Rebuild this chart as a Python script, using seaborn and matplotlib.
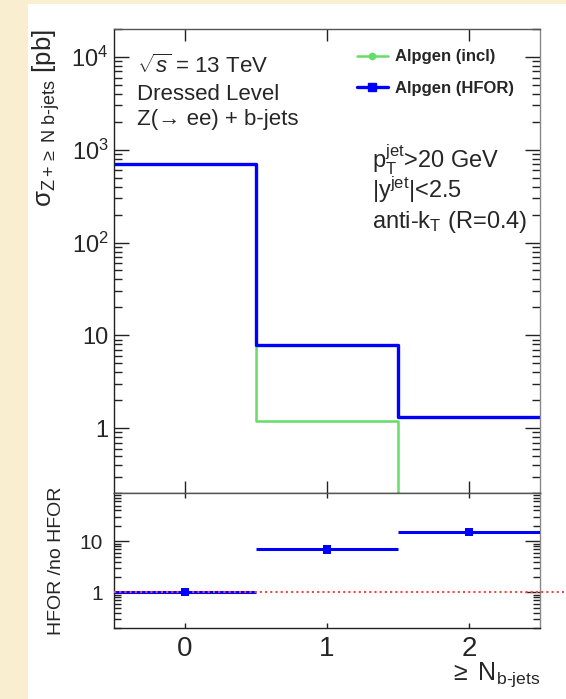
import numpy as np
import pandas as pd
import matplotlib
matplotlib.use("Agg")
import matplotlib.pyplot as plt
import seaborn as sns
from matplotlib.lines import Line2D
from matplotlib.patches import Rectangle
from matplotlib.ticker import FixedLocator, FixedFormatter, LogLocator, NullFormatter, NullLocator

# ---------------- data ----------------
n_bjets = [0, 1, 2]
bin_edges = [-0.5, 0.5, 1.5, 2.5]
xsec_incl = [700.0, 1.2, 0.087]
xsec_hfor = [700.0, 7.9, 1.32]
ratio_hfor = [1.0, 6.9, 15.2]
series_labels = ["Alpgen (incl)", "Alpgen (HFOR)"]
series_colors = ["#66DD66", "#0000FF"]
main_yticks = [1, 10, 100, 1000, 10000]
main_yticklabels = ["1", "10", r"$10^{2}$", r"$10^{3}$", r"$10^{4}$"]
ratio_yticks = [1, 10]
ratio_yticklabels = ["1", "10"]
xticks = [0, 1, 2]
xticklabels = ["0", "1", "2"]

# ---------------- style ----------------
sns.set_theme(style="ticks")
plt.rcParams["font.family"] = ["Liberation Sans", "DejaVu Sans"]
plt.rcParams["mathtext.fontset"] = "custom"
plt.rcParams["mathtext.rm"] = "Liberation Sans"
plt.rcParams["mathtext.it"] = "Liberation Sans:italic"
plt.rcParams["mathtext.bf"] = "Liberation Sans:bold"
plt.rcParams["mathtext.sf"] = "Liberation Sans"

W, H = 566, 699
fig = plt.figure(figsize=(W / 100, H / 100), dpi=100, facecolor="#F9EFD0")
fig.patches.append(Rectangle((28 / W, 0), 1 - 28 / W, (H - 4) / H,
                             transform=fig.transFigure, facecolor="white",
                             edgecolor="none", zorder=-10))


def px_axes(l, t, r, b):
    return [l / W, 1 - b / H, (r - l) / W, (b - t) / H]


ax = fig.add_axes(px_axes(114, 29, 540, 493))
axr = fig.add_axes(px_axes(114, 493, 540, 628))

# ---------------- main panel ----------------
df = pd.DataFrame({
    "n": n_bjets * 2,
    "xsec": xsec_incl + xsec_hfor,
    "sample": [series_labels[0]] * 3 + [series_labels[1]] * 3,
})
for label, color, lw in zip(series_labels, series_colors, [1.8, 2.4]):
    sub = df[df["sample"] == label]
    sns.histplot(data=sub, x="n", weights="xsec", bins=bin_edges,
                 element="step", fill=False, color=color, linewidth=lw, ax=ax)

ax.set_yscale("log")
ax.set_xlim(-0.5, 2.5)
ax.set_ylim(0.2, 2e4)

# ---------------- ratio panel ----------------
rdf = pd.DataFrame({"n": n_bjets, "ratio": ratio_hfor})
axr.errorbar(n_bjets, ratio_hfor, xerr=0.5, fmt="none", ecolor="#0000FF",
             elinewidth=2.2, capsize=0, zorder=3)
sns.scatterplot(data=rdf, x="n", y="ratio", marker="s", s=34, color="#0000FF",
                edgecolor="none", ax=axr, zorder=4)
axr.axhline(1, xmin=0, xmax=(W - 114) / 426, color="#FF4444", ls=(0, (1, 1.5)), lw=1.5,
            clip_on=False, zorder=3.5)
axr.set_yscale("log")
axr.set_xlim(-0.5, 2.5)
axr.set_ylim(0.2, 88)

# ---------------- ticks ----------------
for a in (ax, axr):
    a.tick_params(which="both", direction="in", left=True, right=True,
                  top=True, bottom=True, color="#222222")
    a.xaxis.set_major_locator(FixedLocator(xticks))
    a.xaxis.set_minor_locator(NullLocator())
    a.yaxis.set_minor_locator(LogLocator(base=10, subs=np.arange(2, 10), numticks=30))
    a.yaxis.set_minor_formatter(NullFormatter())
    for side, col in (("left", "#222222"), ("bottom", "#222222"),
                      ("top", "#555555"), ("right", "#888888")):
        a.spines[side].set_color(col)
        a.spines[side].set_linewidth(1.0)
    a.set_facecolor("white")

ax.yaxis.set_major_locator(FixedLocator(main_yticks))
ax.yaxis.set_major_formatter(FixedFormatter(main_yticklabels))
ax.tick_params(axis="y", which="major", length=10.8, width=1, labelsize=17, pad=4)
ax.tick_params(axis="y", which="minor", length=5.8, width=1)
ax.tick_params(axis="x", which="major", length=8.5, width=1, labelbottom=False)

axr.yaxis.set_major_locator(FixedLocator(ratio_yticks))
axr.yaxis.set_major_formatter(FixedFormatter(ratio_yticklabels))
axr.tick_params(axis="y", which="major", length=10.8, width=1, labelsize=15, pad=8)
axr.tick_params(axis="y", which="minor", length=5.0, width=1)
axr.xaxis.set_major_formatter(FixedFormatter(xticklabels))
axr.tick_params(axis="x", which="major", length=3.6, width=1, labelsize=20, pad=6)

# ---------------- labels ----------------
ax.set_xlabel("")
ax.set_ylabel(r"$\mathrm{\sigma}_{\mathrm{Z+}\geq\mathrm{\ N\ b}\text{-}\mathrm{jets}}$ [pb]",
              fontsize=18.5, loc="top")
ax.yaxis.set_label_coords(-0.122, 1.0)

axr.set_ylabel("HFOR /no HFOR", fontsize=14)
axr.yaxis.set_label_coords(-0.115, 0.5)
axr.set_xlabel(r"$\geq\ \mathrm{N}_{\mathrm{b}\text{-}\mathrm{jets}}$", fontsize=18, loc="right")
axr.xaxis.set_label_coords(1.0, -0.237)

# ---------------- annotations ----------------
ax.text(0.054, 0.905, r"$\sqrt{s}$ = 13 TeV", transform=ax.transAxes, fontsize=16, va="baseline")
ax.text(0.054, 0.848, "Dressed Level", transform=ax.transAxes, fontsize=16, va="baseline")
ax.text(0.054, 0.793, "Z(\u2192 ee) + b-jets", transform=ax.transAxes, fontsize=16, va="baseline")

ax.text(0.606, 0.700, r"$\mathrm{p}_{\mathrm{T}}^{\mathrm{jet}}$>20 GeV", transform=ax.transAxes,
        fontsize=17, va="baseline")
ax.text(0.606, 0.636, r"|y$^{\mathrm{jet}}$|<2.5", transform=ax.transAxes, fontsize=17, va="baseline")
ax.text(0.606, 0.571, r"anti-k$_{\mathrm{T}}$ (R=0.4)", transform=ax.transAxes, fontsize=17,
        va="baseline")

handles = [
    Line2D([], [], color=series_colors[0], lw=1.8, marker="o", ms=4.5),
    Line2D([], [], color=series_colors[1], lw=2.4, marker="s", ms=5.5),
]
ax.legend(handles, series_labels, loc="upper left", bbox_to_anchor=(0.57, 0.956),
          frameon=False, prop={"weight": "bold", "size": 12}, handlelength=1.86,
          handletextpad=0.45, labelspacing=1.0, borderpad=0, borderaxespad=0)

fig.savefig("out.png", dpi=100, facecolor=fig.get_facecolor())
